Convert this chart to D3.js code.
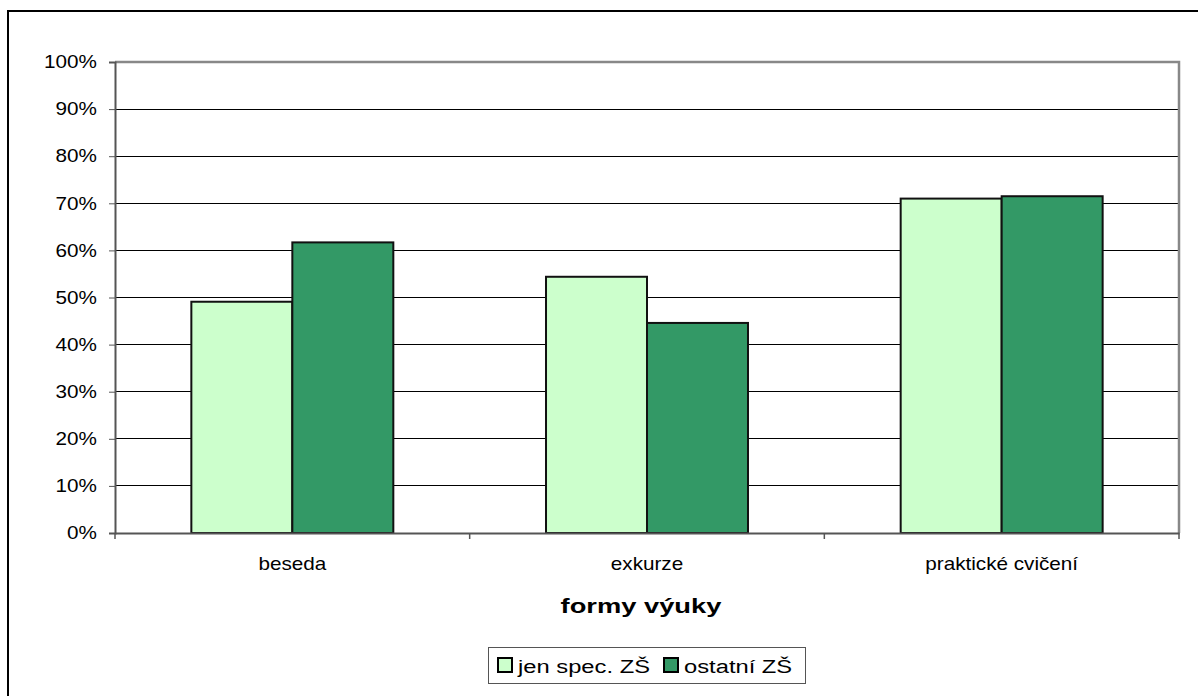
<!DOCTYPE html>
<html>
<head>
<meta charset="utf-8">
<script src="https://cdn.jsdelivr.net/npm/d3@7"></script>
<style>
  body { margin: 0; background: #fff; }
  svg { display: block; font-family: "Liberation Sans", Arial, sans-serif; }
</style>
</head>
<body>
<svg id="chart" width="1198" height="696"></svg>
<script>
// data
const categories = ["beseda", "exkurze", "praktické cvičení"];
const seriesNames = ["jen spec. ZŠ", "ostatní ZŠ"];
const jenSpec = [0.491, 0.544, 0.710];
const ostatni = [0.617, 0.446, 0.715];
const yTicks = [0, 0.1, 0.2, 0.3, 0.4, 0.5, 0.6, 0.7, 0.8, 0.9, 1];
const colors = ["#CCFFCC", "#339966"];

const svg = d3.select("#chart");
const FONT = "Liberation Sans, Arial, sans-serif";
const sx = 1.15; // the source text is a little wide

let margin = { top: 62, right: 19, bottom: 163, left: 115 };
let plotW = 1198 - margin.left - margin.right;
let plotH = 696 - margin.top - margin.bottom;

// outer chart frame (runs off the right and bottom edge)
svg.append("rect")
  .attr("x", 8).attr("y", 11)
  .attr("width", 1300).attr("height", 800)
  .attr("fill", "none").attr("stroke", "#000").attr("stroke-width", 2);

let g = svg.append("g").attr("transform", "translate(" + margin.left + "," + margin.top + ")");

let x = d3.scaleBand().domain(categories).range([0, plotW]);
let xInner = d3.scaleBand().domain(seriesNames).range([0, x.bandwidth()])
  .paddingInner(0).paddingOuter(0.756);
let y = d3.scaleLinear().domain([0, 1]).range([plotH, 0]);

// gridlines
g.selectAll(".grid").data(yTicks.slice(1, -1)).enter()
  .append("line")
  .attr("x1", 0).attr("x2", plotW)
  .attr("y1", d => y(d)).attr("y2", d => y(d))
  .attr("stroke", "#000").attr("stroke-width", 1).attr("shape-rendering", "crispEdges");

// plot-area border (top & right gray)
g.append("path")
  .attr("d", "M0," + y(1) + "H" + plotW + "V" + plotH)
  .attr("fill", "none").attr("stroke", "#888").attr("stroke-width", 2.5);

// bars
let rows = categories.map((c, i) => ({ cat: c, vals: [jenSpec[i], ostatni[i]] }));
let grp = g.selectAll(".grp").data(rows).enter().append("g")
  .attr("transform", d => "translate(" + x(d.cat) + ",0)");
grp.selectAll("rect").data(d => d.vals.map((v, k) => ({ v: v, s: seriesNames[k], k: k })))
  .enter().append("rect")
  .attr("x", d => xInner(d.s))
  .attr("width", xInner.bandwidth())
  .attr("y", d => y(d.v))
  .attr("height", d => plotH - y(d.v))
  .attr("fill", d => colors[d.k])
  .attr("stroke", "#111").attr("stroke-width", 2);

// y axis
let yAxis = g.append("g")
  .call(d3.axisLeft(y).tickValues(yTicks).tickFormat(d3.format(".0%")).tickSize(6).tickPadding(10));
yAxis.select(".domain").attr("stroke", "#555").attr("stroke-width", 2);
yAxis.selectAll(".tick line").attr("stroke", "#555");
yAxis.selectAll("text")
  .attr("font-size", 18).attr("fill", "#000").attr("font-family", FONT)
  .attr("x", -18 / sx)
  .attr("transform", "scale(" + sx + ",1)");

// x axis
let xAxis = g.append("g").attr("transform", "translate(0," + plotH + ")")
  .call(d3.axisBottom(x).tickSize(0).tickPadding(22));
xAxis.select(".domain").attr("stroke", "#555").attr("stroke-width", 2);
xAxis.selectAll("text")
  .attr("font-size", 18).attr("fill", "#000").attr("font-family", FONT)
  .attr("dy", null).attr("y", 37)
  .attr("transform", "scale(" + sx + ",1)");
// category separators
g.selectAll(".sep").data(d3.range(categories.length + 1)).enter()
  .append("line")
  .attr("x1", i => i * x.step()).attr("x2", i => i * x.step())
  .attr("y1", plotH).attr("y2", plotH + 6)
  .attr("stroke", "#555").attr("stroke-width", 1.5);

// axis title
svg.append("text")
  .attr("transform", "translate(" + (margin.left + plotW / 2 - 6) + ",613) scale(1.3,1)")
  .attr("text-anchor", "middle")
  .attr("font-size", 21).attr("font-weight", "bold")
  .text("formy výuky");

// legend
let lg = svg.append("g");
lg.append("rect")
  .attr("x", 488.5).attr("y", 647.5).attr("width", 317).attr("height", 36)
  .attr("fill", "#fff").attr("stroke", "#555").attr("stroke-width", 1);
let legX = [498, 664];
seriesNames.forEach((s, i) => {
  lg.append("rect")
    .attr("x", legX[i]).attr("y", 658).attr("width", 14).attr("height", 14)
    .attr("fill", colors[i]).attr("stroke", "#000").attr("stroke-width", 2);
  lg.append("text")
    .attr("transform", "translate(" + (legX[i] + 20) + ",673) scale(1.32,1)")
    .attr("font-size", 18)
    .text(s);
});
</script>
</body>
</html>
